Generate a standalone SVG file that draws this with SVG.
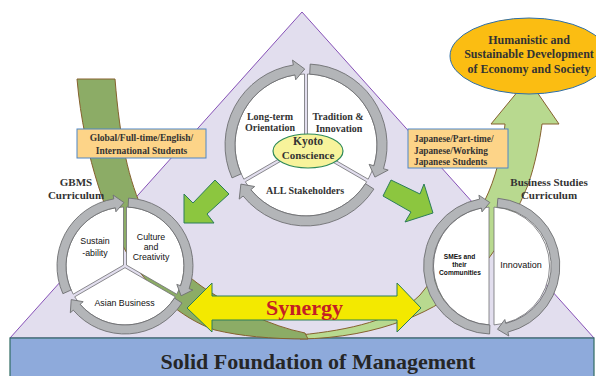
<svg xmlns="http://www.w3.org/2000/svg" width="596" height="376" viewBox="0 0 596 376">
<defs>
<style>
.serif{font-family:"Liberation Serif","Times New Roman",serif;font-weight:bold;fill:#333}
.sans{font-family:"Liberation Sans",Arial,sans-serif;fill:#111}
.ring{fill:#b3b5b8;stroke:#6e6f72;stroke-width:0.9}
.sector{fill:#fff;stroke:#6e6f72;stroke-width:0.8}
.box{fill:#fdd488;stroke:#4f86c6;stroke-width:1}
.garrow{fill:#8cc63f;stroke:#2b7d5a;stroke-width:1}
.band{stroke:#86612e;stroke-width:1}
</style>
</defs>
<rect x="0" y="0" width="596" height="376" fill="#fff"/>

<g id="triangle">
<polygon points="302,12 10,338 594,338" fill="#e2deee" stroke="#7b3fb0" stroke-width="0.9"/>
</g>

<g id="foundation">
<rect x="10" y="338" width="584" height="40" fill="#8eaadb" stroke="#2f6b63" stroke-width="1.2"/>
<text class="serif" x="318" y="369" font-size="22" text-anchor="middle" style="fill:#262626">Solid Foundation of Management</text>
</g>

<g id="flow-bands">
<path class="band" fill="#b8d98f" d="M300,339 C380,338 440,310 470,280 C500,250 515,215 528,185 C535,165 540,140 542,124 L559,124 L528,79 L491,124 L505,124 C503,150 495,180 485,200 C470,235 440,270 420,295 C395,320 350,330 300,335 Z"/>
<path class="band" fill="#8cac66" d="M115,79 C120,140 128,180 145,215 C160,250 180,272 207,290 C235,308 270,326 305,333 L308,339 C270,339 240,336 215,330 C180,318 150,290 128,255 C110,225 84,160 77,79 Z"/>
</g>

<g id="kyoto-circle">
<path class="sector" d="M304.5,144.1 L243.8,179.2 A71,71 0 0 1 304.5,74.0 Z"/>
<path class="sector" d="M307.5,144.1 L307.5,74.0 A71,71 0 0 1 368.2,179.2 Z"/>
<path class="sector" d="M306,146.7 L366.7,181.8 A71,71 0 0 1 245.3,181.8 Z"/>
<path class="ring" d="M232.0,177.9 A81,81 0 0 1 293.3,65.0 L292.5,60.1 L304.7,69.0 L295.7,79.8 L294.9,74.9 A71,71 0 0 0 241.1,173.9 Z"/>
<path class="ring" d="M310.2,64.1 A81,81 0 0 1 383.5,168.7 L388.2,170.1 L374.9,177.1 L369.1,164.3 L373.9,165.8 A71,71 0 0 0 309.7,74.1 Z"/>
<path class="ring" d="M373.9,189.1 A81,81 0 0 1 243.1,196.0 L239.2,199.1 L240.9,184.1 L254.7,186.5 L250.8,189.7 A71,71 0 0 0 365.5,183.7 Z"/>
<ellipse cx="308" cy="151" rx="35" ry="17" fill="#f7f39b" stroke="#2f8a5a" stroke-width="1.2"/>
<text class="serif" x="308" y="145" font-size="11.5" text-anchor="middle">Kyoto</text>
<text class="serif" x="308" y="158.5" font-size="11" text-anchor="middle">Conscience</text>
<text class="serif" x="270" y="119.5" font-size="10" text-anchor="middle">Long-term</text>
<text class="serif" x="270" y="130.5" font-size="10" text-anchor="middle">Orientation</text>
<text class="serif" x="338" y="119.5" font-size="10" text-anchor="middle">Tradition &amp;</text>
<text class="serif" x="339" y="131.5" font-size="10" text-anchor="middle">Innovation</text>
<text class="serif" x="305" y="194" font-size="10" text-anchor="middle">ALL Stakeholders</text>
</g>

<g id="gbms-circle">
<path class="sector" d="M123.5,265.1 L73.2,294.2 A59,59 0 0 1 123.5,207.0 Z"/>
<path class="sector" d="M126.5,265.1 L126.5,207.0 A59,59 0 0 1 176.8,294.2 Z"/>
<path class="sector" d="M125,267.7 L175.3,296.8 A59,59 0 0 1 74.7,296.8 Z"/>
<path class="ring" d="M62.9,293.7 A68,68 0 0 1 113.8,198.9 L113.1,195.0 L123.9,202.5 L115.9,211.8 L115.3,207.8 A59,59 0 0 0 71.1,290.0 Z"/>
<path class="ring" d="M128.6,198.1 A68,68 0 0 1 189.1,288.7 L192.9,290.0 L181.1,295.8 L176.8,284.4 L180.6,285.7 A59,59 0 0 0 128.1,207.1 Z"/>
<path class="ring" d="M182.0,303.0 A68,68 0 0 1 73.3,310.2 L70.3,312.8 L71.2,299.6 L83.2,301.7 L80.1,304.3 A59,59 0 0 0 174.5,298.1 Z"/>
<text class="sans" x="95" y="243.5" font-size="8.8" text-anchor="middle">Sustain</text>
<text class="sans" x="95" y="256" font-size="8.8" text-anchor="middle">-ability</text>
<text class="sans" x="151" y="239.5" font-size="8.8" text-anchor="middle">Culture</text>
<text class="sans" x="151" y="249.5" font-size="8.8" text-anchor="middle">and</text>
<text class="sans" x="151" y="260" font-size="8.8" text-anchor="middle">Creativity</text>
<text class="sans" x="124.5" y="306" font-size="8.8" text-anchor="middle">Asian Business</text>
</g>

<g id="bs-circle">
<path class="sector" d="M489,207.1 L489,324.9 A59,59 0 0 1 489,207.1 Z"/>
<path class="sector" d="M494,207.1 A59,59 0 0 1 494,324.9 Z"/>
<path class="ring" d="M489.6,334.0 A68,68 0 0 1 479.6,199.1 L478.9,195.2 L489.8,202.5 L482.0,211.9 L481.3,208.0 A59,59 0 0 0 489.9,325.0 Z"/>
<path class="ring" d="M497.9,198.3 A68,68 0 0 1 507.9,332.1 L508.8,336.0 L497.5,329.3 L504.8,319.5 L505.8,323.4 A59,59 0 0 0 497.1,207.2 Z"/>
<text class="sans" x="459.5" y="258.5" font-size="6.6" font-weight="bold" text-anchor="middle">SMEs and</text>
<text class="sans" x="459.5" y="266.5" font-size="6.6" font-weight="bold" text-anchor="middle">their</text>
<text class="sans" x="460" y="274.5" font-size="6.6" font-weight="bold" text-anchor="middle">Communities</text>
<text class="sans" x="521" y="268" font-size="9" text-anchor="middle">Innovation</text>
</g>

<g id="connectors">
<polygon class="garrow" points="184,223 184,194 193,203 215,180 229,194 207,214 214,223"/>
<polygon class="garrow" points="391,180 420,194 424,184 433,213 405,222 411,212 383,196"/>
<polygon points="187,308 212,283 212,296 397,296 397,283 421,308 397,332 397,320 212,320 212,332" fill="#f3e900" stroke="#2b7d5a" stroke-width="1"/>
</g>

<g id="synergy-label">
<text class="serif" x="304.5" y="315" font-size="22" text-anchor="middle" style="fill:#c41e24">Synergy</text>
</g>

<g id="global-box">
<rect class="box" x="77" y="129" width="129" height="29"/>
<text class="serif" x="141.5" y="141" font-size="9.5" text-anchor="middle">Global/Full-time/English/</text>
<text class="serif" x="141.5" y="153.5" font-size="9.5" text-anchor="middle">International Students</text>
</g>

<g id="japanese-box">
<rect class="box" x="408" y="129" width="100" height="39"/>
<text class="serif" x="414" y="142" font-size="9.3">Japanese/Part-time/</text>
<text class="serif" x="414" y="153.5" font-size="9.3">Japanese/Working</text>
<text class="serif" x="414" y="165" font-size="9.3">Japanese Students</text>
</g>

<g id="goal-ellipse">
<ellipse cx="529" cy="56" rx="79" ry="38" fill="#fbbd12" stroke="#2f6fa8" stroke-width="1"/>
<text class="serif" x="529" y="44" font-size="12" text-anchor="middle">Humanistic and</text>
<text class="serif" x="529" y="58" font-size="12" text-anchor="middle">Sustainable Development</text>
<text class="serif" x="529" y="73" font-size="12" text-anchor="middle">of Economy and Society</text>
</g>

<g id="gbms-label">
<text class="serif" x="76" y="185.5" font-size="11" text-anchor="middle">GBMS</text>
<text class="serif" x="76" y="199" font-size="11" text-anchor="middle">Curriculum</text>
</g>

<g id="bs-label">
<text class="serif" x="549" y="186" font-size="11" text-anchor="middle">Business Studies</text>
<text class="serif" x="549" y="198.5" font-size="11" text-anchor="middle">Curriculum</text>
</g>
</svg>
